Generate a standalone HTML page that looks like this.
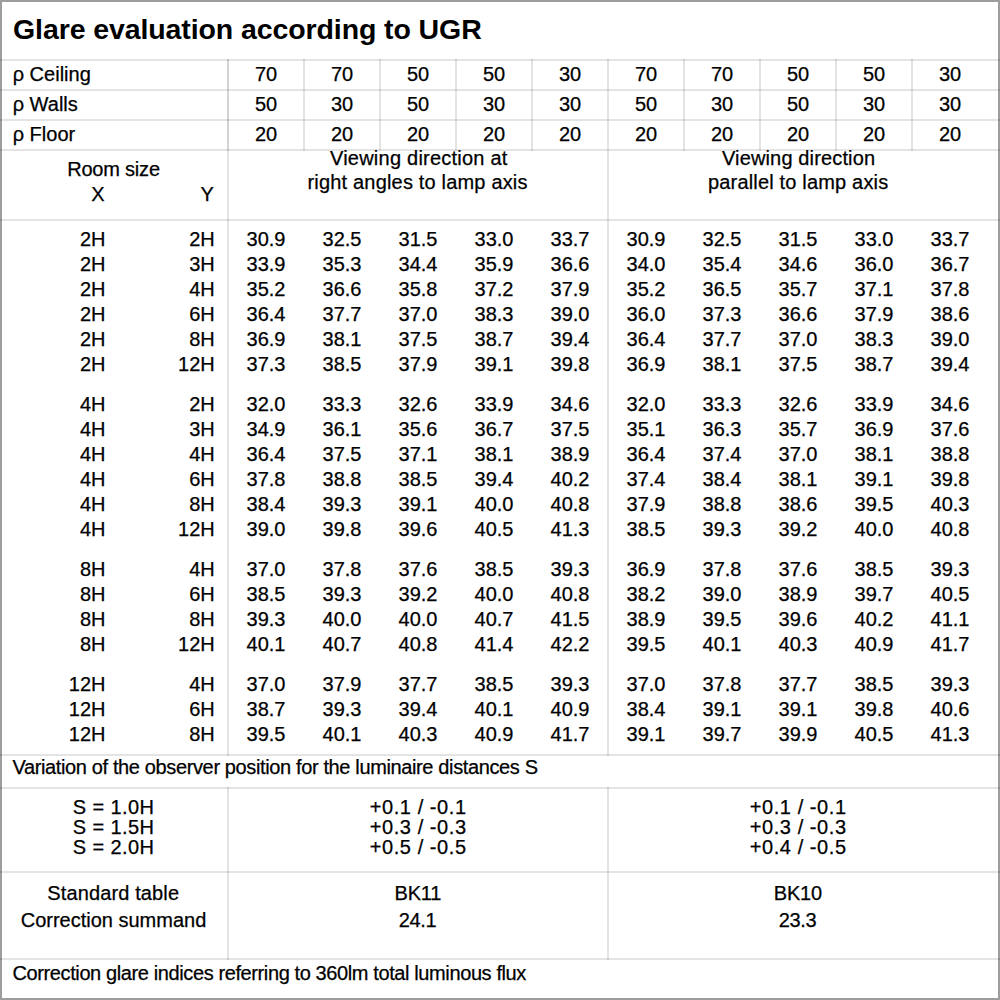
<!DOCTYPE html>
<html><head><meta charset="utf-8"><style>
html,body{margin:0;padding:0;background:#fff;}
#p{position:relative;width:1000px;height:1000px;overflow:hidden;background:#fff;}
.bd{left:0;top:0;width:1000px;height:1000px;box-sizing:border-box;border:2px solid rgba(0,0,0,0.385);}
#p>div{position:absolute;}
.t{font-family:"Liberation Sans",sans-serif;font-size:20px;line-height:20px;color:#000;white-space:nowrap;-webkit-text-stroke:0.25px #000;}
.title{font-family:"Liberation Sans",sans-serif;font-size:28.5px;line-height:28px;font-weight:bold;color:#000;white-space:nowrap;}
.h{height:2px;background:rgba(0,0,0,0.106);}
.v{width:2px;background:rgba(0,0,0,0.106);}
</style></head><body><div id="p">
<div class="h" style="top:59px;left:0px;width:1000px;"></div>
<div class="h" style="top:89px;left:0px;width:1000px;"></div>
<div class="h" style="top:119px;left:0px;width:1000px;"></div>
<div class="h" style="top:149px;left:0px;width:1000px;"></div>
<div class="h" style="top:219px;left:0px;width:1000px;"></div>
<div class="h" style="top:754px;left:0px;width:1000px;"></div>
<div class="h" style="top:787px;left:0px;width:1000px;"></div>
<div class="h" style="top:871px;left:0px;width:1000px;"></div>
<div class="h" style="top:958px;left:0px;width:1000px;"></div>
<div class="v" style="left:227px;top:59px;height:92px;background:rgba(0,0,0,0.17);"></div>
<div class="v" style="left:227px;top:151px;height:605px;"></div>
<div class="v" style="left:227px;top:787px;height:173px;"></div>
<div class="v" style="left:303px;top:59px;height:92px;"></div>
<div class="v" style="left:379px;top:59px;height:92px;"></div>
<div class="v" style="left:455px;top:59px;height:92px;"></div>
<div class="v" style="left:531px;top:59px;height:92px;"></div>
<div class="v" style="left:607px;top:59px;height:92px;"></div>
<div class="v" style="left:683px;top:59px;height:92px;"></div>
<div class="v" style="left:759px;top:59px;height:92px;"></div>
<div class="v" style="left:835px;top:59px;height:92px;"></div>
<div class="v" style="left:911px;top:59px;height:92px;"></div>
<div class="v" style="left:607px;top:151px;height:605px;"></div>
<div class="v" style="left:607px;top:787px;height:173px;"></div>
<div class="title" style="left:13px;top:15px;letter-spacing:-0.1px;">Glare evaluation according to UGR</div>
<div class="t" style="top:64.0px;left:12.7px;">&rho; Ceiling</div>
<div class="t" style="top:64.0px;left:66.0px;width:400px;text-align:center;">70</div>
<div class="t" style="top:64.0px;left:142.0px;width:400px;text-align:center;">70</div>
<div class="t" style="top:64.0px;left:218.0px;width:400px;text-align:center;">50</div>
<div class="t" style="top:64.0px;left:294.0px;width:400px;text-align:center;">50</div>
<div class="t" style="top:64.0px;left:370.0px;width:400px;text-align:center;">30</div>
<div class="t" style="top:64.0px;left:446.0px;width:400px;text-align:center;">70</div>
<div class="t" style="top:64.0px;left:522.0px;width:400px;text-align:center;">70</div>
<div class="t" style="top:64.0px;left:598.0px;width:400px;text-align:center;">50</div>
<div class="t" style="top:64.0px;left:674.0px;width:400px;text-align:center;">50</div>
<div class="t" style="top:64.0px;left:750.0px;width:400px;text-align:center;">30</div>
<div class="t" style="top:94.0px;left:12.7px;">&rho; Walls</div>
<div class="t" style="top:94.0px;left:66.0px;width:400px;text-align:center;">50</div>
<div class="t" style="top:94.0px;left:142.0px;width:400px;text-align:center;">30</div>
<div class="t" style="top:94.0px;left:218.0px;width:400px;text-align:center;">50</div>
<div class="t" style="top:94.0px;left:294.0px;width:400px;text-align:center;">30</div>
<div class="t" style="top:94.0px;left:370.0px;width:400px;text-align:center;">30</div>
<div class="t" style="top:94.0px;left:446.0px;width:400px;text-align:center;">50</div>
<div class="t" style="top:94.0px;left:522.0px;width:400px;text-align:center;">30</div>
<div class="t" style="top:94.0px;left:598.0px;width:400px;text-align:center;">50</div>
<div class="t" style="top:94.0px;left:674.0px;width:400px;text-align:center;">30</div>
<div class="t" style="top:94.0px;left:750.0px;width:400px;text-align:center;">30</div>
<div class="t" style="top:124.0px;left:12.7px;">&rho; Floor</div>
<div class="t" style="top:124.0px;left:66.0px;width:400px;text-align:center;">20</div>
<div class="t" style="top:124.0px;left:142.0px;width:400px;text-align:center;">20</div>
<div class="t" style="top:124.0px;left:218.0px;width:400px;text-align:center;">20</div>
<div class="t" style="top:124.0px;left:294.0px;width:400px;text-align:center;">20</div>
<div class="t" style="top:124.0px;left:370.0px;width:400px;text-align:center;">20</div>
<div class="t" style="top:124.0px;left:446.0px;width:400px;text-align:center;">20</div>
<div class="t" style="top:124.0px;left:522.0px;width:400px;text-align:center;">20</div>
<div class="t" style="top:124.0px;left:598.0px;width:400px;text-align:center;">20</div>
<div class="t" style="top:124.0px;left:674.0px;width:400px;text-align:center;">20</div>
<div class="t" style="top:124.0px;left:750.0px;width:400px;text-align:center;">20</div>
<div class="t" style="top:159.0px;left:-86.5px;width:400px;text-align:center;letter-spacing:-0.2px;">Room size</div>
<div class="t" style="top:184.0px;left:-95.5px;width:200px;text-align:right;">X</div>
<div class="t" style="top:184.0px;left:13.8px;width:200px;text-align:right;">Y</div>
<div class="t" style="top:147.5px;left:218.8px;width:400px;text-align:center;letter-spacing:0.23px;">Viewing direction at</div>
<div class="t" style="top:171.7px;left:217.6px;width:400px;text-align:center;letter-spacing:0.18px;">right angles to lamp axis</div>
<div class="t" style="top:147.5px;left:598.6px;width:400px;text-align:center;letter-spacing:0.14px;">Viewing direction</div>
<div class="t" style="top:171.7px;left:598.2px;width:400px;text-align:center;letter-spacing:0.17px;">parallel to lamp axis</div>
<div class="t" style="top:229.0px;left:-94.5px;width:200px;text-align:right;">2H</div>
<div class="t" style="top:229.0px;left:14.8px;width:200px;text-align:right;">2H</div>
<div class="t" style="top:229.0px;left:66.0px;width:400px;text-align:center;">30.9</div>
<div class="t" style="top:229.0px;left:142.0px;width:400px;text-align:center;">32.5</div>
<div class="t" style="top:229.0px;left:218.0px;width:400px;text-align:center;">31.5</div>
<div class="t" style="top:229.0px;left:294.0px;width:400px;text-align:center;">33.0</div>
<div class="t" style="top:229.0px;left:370.0px;width:400px;text-align:center;">33.7</div>
<div class="t" style="top:229.0px;left:446.0px;width:400px;text-align:center;">30.9</div>
<div class="t" style="top:229.0px;left:522.0px;width:400px;text-align:center;">32.5</div>
<div class="t" style="top:229.0px;left:598.0px;width:400px;text-align:center;">31.5</div>
<div class="t" style="top:229.0px;left:674.0px;width:400px;text-align:center;">33.0</div>
<div class="t" style="top:229.0px;left:750.0px;width:400px;text-align:center;">33.7</div>
<div class="t" style="top:254.0px;left:-94.5px;width:200px;text-align:right;">2H</div>
<div class="t" style="top:254.0px;left:14.8px;width:200px;text-align:right;">3H</div>
<div class="t" style="top:254.0px;left:66.0px;width:400px;text-align:center;">33.9</div>
<div class="t" style="top:254.0px;left:142.0px;width:400px;text-align:center;">35.3</div>
<div class="t" style="top:254.0px;left:218.0px;width:400px;text-align:center;">34.4</div>
<div class="t" style="top:254.0px;left:294.0px;width:400px;text-align:center;">35.9</div>
<div class="t" style="top:254.0px;left:370.0px;width:400px;text-align:center;">36.6</div>
<div class="t" style="top:254.0px;left:446.0px;width:400px;text-align:center;">34.0</div>
<div class="t" style="top:254.0px;left:522.0px;width:400px;text-align:center;">35.4</div>
<div class="t" style="top:254.0px;left:598.0px;width:400px;text-align:center;">34.6</div>
<div class="t" style="top:254.0px;left:674.0px;width:400px;text-align:center;">36.0</div>
<div class="t" style="top:254.0px;left:750.0px;width:400px;text-align:center;">36.7</div>
<div class="t" style="top:279.0px;left:-94.5px;width:200px;text-align:right;">2H</div>
<div class="t" style="top:279.0px;left:14.8px;width:200px;text-align:right;">4H</div>
<div class="t" style="top:279.0px;left:66.0px;width:400px;text-align:center;">35.2</div>
<div class="t" style="top:279.0px;left:142.0px;width:400px;text-align:center;">36.6</div>
<div class="t" style="top:279.0px;left:218.0px;width:400px;text-align:center;">35.8</div>
<div class="t" style="top:279.0px;left:294.0px;width:400px;text-align:center;">37.2</div>
<div class="t" style="top:279.0px;left:370.0px;width:400px;text-align:center;">37.9</div>
<div class="t" style="top:279.0px;left:446.0px;width:400px;text-align:center;">35.2</div>
<div class="t" style="top:279.0px;left:522.0px;width:400px;text-align:center;">36.5</div>
<div class="t" style="top:279.0px;left:598.0px;width:400px;text-align:center;">35.7</div>
<div class="t" style="top:279.0px;left:674.0px;width:400px;text-align:center;">37.1</div>
<div class="t" style="top:279.0px;left:750.0px;width:400px;text-align:center;">37.8</div>
<div class="t" style="top:304.0px;left:-94.5px;width:200px;text-align:right;">2H</div>
<div class="t" style="top:304.0px;left:14.8px;width:200px;text-align:right;">6H</div>
<div class="t" style="top:304.0px;left:66.0px;width:400px;text-align:center;">36.4</div>
<div class="t" style="top:304.0px;left:142.0px;width:400px;text-align:center;">37.7</div>
<div class="t" style="top:304.0px;left:218.0px;width:400px;text-align:center;">37.0</div>
<div class="t" style="top:304.0px;left:294.0px;width:400px;text-align:center;">38.3</div>
<div class="t" style="top:304.0px;left:370.0px;width:400px;text-align:center;">39.0</div>
<div class="t" style="top:304.0px;left:446.0px;width:400px;text-align:center;">36.0</div>
<div class="t" style="top:304.0px;left:522.0px;width:400px;text-align:center;">37.3</div>
<div class="t" style="top:304.0px;left:598.0px;width:400px;text-align:center;">36.6</div>
<div class="t" style="top:304.0px;left:674.0px;width:400px;text-align:center;">37.9</div>
<div class="t" style="top:304.0px;left:750.0px;width:400px;text-align:center;">38.6</div>
<div class="t" style="top:329.0px;left:-94.5px;width:200px;text-align:right;">2H</div>
<div class="t" style="top:329.0px;left:14.8px;width:200px;text-align:right;">8H</div>
<div class="t" style="top:329.0px;left:66.0px;width:400px;text-align:center;">36.9</div>
<div class="t" style="top:329.0px;left:142.0px;width:400px;text-align:center;">38.1</div>
<div class="t" style="top:329.0px;left:218.0px;width:400px;text-align:center;">37.5</div>
<div class="t" style="top:329.0px;left:294.0px;width:400px;text-align:center;">38.7</div>
<div class="t" style="top:329.0px;left:370.0px;width:400px;text-align:center;">39.4</div>
<div class="t" style="top:329.0px;left:446.0px;width:400px;text-align:center;">36.4</div>
<div class="t" style="top:329.0px;left:522.0px;width:400px;text-align:center;">37.7</div>
<div class="t" style="top:329.0px;left:598.0px;width:400px;text-align:center;">37.0</div>
<div class="t" style="top:329.0px;left:674.0px;width:400px;text-align:center;">38.3</div>
<div class="t" style="top:329.0px;left:750.0px;width:400px;text-align:center;">39.0</div>
<div class="t" style="top:354.0px;left:-94.5px;width:200px;text-align:right;">2H</div>
<div class="t" style="top:354.0px;left:14.8px;width:200px;text-align:right;">12H</div>
<div class="t" style="top:354.0px;left:66.0px;width:400px;text-align:center;">37.3</div>
<div class="t" style="top:354.0px;left:142.0px;width:400px;text-align:center;">38.5</div>
<div class="t" style="top:354.0px;left:218.0px;width:400px;text-align:center;">37.9</div>
<div class="t" style="top:354.0px;left:294.0px;width:400px;text-align:center;">39.1</div>
<div class="t" style="top:354.0px;left:370.0px;width:400px;text-align:center;">39.8</div>
<div class="t" style="top:354.0px;left:446.0px;width:400px;text-align:center;">36.9</div>
<div class="t" style="top:354.0px;left:522.0px;width:400px;text-align:center;">38.1</div>
<div class="t" style="top:354.0px;left:598.0px;width:400px;text-align:center;">37.5</div>
<div class="t" style="top:354.0px;left:674.0px;width:400px;text-align:center;">38.7</div>
<div class="t" style="top:354.0px;left:750.0px;width:400px;text-align:center;">39.4</div>
<div class="t" style="top:394.0px;left:-94.5px;width:200px;text-align:right;">4H</div>
<div class="t" style="top:394.0px;left:14.8px;width:200px;text-align:right;">2H</div>
<div class="t" style="top:394.0px;left:66.0px;width:400px;text-align:center;">32.0</div>
<div class="t" style="top:394.0px;left:142.0px;width:400px;text-align:center;">33.3</div>
<div class="t" style="top:394.0px;left:218.0px;width:400px;text-align:center;">32.6</div>
<div class="t" style="top:394.0px;left:294.0px;width:400px;text-align:center;">33.9</div>
<div class="t" style="top:394.0px;left:370.0px;width:400px;text-align:center;">34.6</div>
<div class="t" style="top:394.0px;left:446.0px;width:400px;text-align:center;">32.0</div>
<div class="t" style="top:394.0px;left:522.0px;width:400px;text-align:center;">33.3</div>
<div class="t" style="top:394.0px;left:598.0px;width:400px;text-align:center;">32.6</div>
<div class="t" style="top:394.0px;left:674.0px;width:400px;text-align:center;">33.9</div>
<div class="t" style="top:394.0px;left:750.0px;width:400px;text-align:center;">34.6</div>
<div class="t" style="top:419.0px;left:-94.5px;width:200px;text-align:right;">4H</div>
<div class="t" style="top:419.0px;left:14.8px;width:200px;text-align:right;">3H</div>
<div class="t" style="top:419.0px;left:66.0px;width:400px;text-align:center;">34.9</div>
<div class="t" style="top:419.0px;left:142.0px;width:400px;text-align:center;">36.1</div>
<div class="t" style="top:419.0px;left:218.0px;width:400px;text-align:center;">35.6</div>
<div class="t" style="top:419.0px;left:294.0px;width:400px;text-align:center;">36.7</div>
<div class="t" style="top:419.0px;left:370.0px;width:400px;text-align:center;">37.5</div>
<div class="t" style="top:419.0px;left:446.0px;width:400px;text-align:center;">35.1</div>
<div class="t" style="top:419.0px;left:522.0px;width:400px;text-align:center;">36.3</div>
<div class="t" style="top:419.0px;left:598.0px;width:400px;text-align:center;">35.7</div>
<div class="t" style="top:419.0px;left:674.0px;width:400px;text-align:center;">36.9</div>
<div class="t" style="top:419.0px;left:750.0px;width:400px;text-align:center;">37.6</div>
<div class="t" style="top:444.0px;left:-94.5px;width:200px;text-align:right;">4H</div>
<div class="t" style="top:444.0px;left:14.8px;width:200px;text-align:right;">4H</div>
<div class="t" style="top:444.0px;left:66.0px;width:400px;text-align:center;">36.4</div>
<div class="t" style="top:444.0px;left:142.0px;width:400px;text-align:center;">37.5</div>
<div class="t" style="top:444.0px;left:218.0px;width:400px;text-align:center;">37.1</div>
<div class="t" style="top:444.0px;left:294.0px;width:400px;text-align:center;">38.1</div>
<div class="t" style="top:444.0px;left:370.0px;width:400px;text-align:center;">38.9</div>
<div class="t" style="top:444.0px;left:446.0px;width:400px;text-align:center;">36.4</div>
<div class="t" style="top:444.0px;left:522.0px;width:400px;text-align:center;">37.4</div>
<div class="t" style="top:444.0px;left:598.0px;width:400px;text-align:center;">37.0</div>
<div class="t" style="top:444.0px;left:674.0px;width:400px;text-align:center;">38.1</div>
<div class="t" style="top:444.0px;left:750.0px;width:400px;text-align:center;">38.8</div>
<div class="t" style="top:469.0px;left:-94.5px;width:200px;text-align:right;">4H</div>
<div class="t" style="top:469.0px;left:14.8px;width:200px;text-align:right;">6H</div>
<div class="t" style="top:469.0px;left:66.0px;width:400px;text-align:center;">37.8</div>
<div class="t" style="top:469.0px;left:142.0px;width:400px;text-align:center;">38.8</div>
<div class="t" style="top:469.0px;left:218.0px;width:400px;text-align:center;">38.5</div>
<div class="t" style="top:469.0px;left:294.0px;width:400px;text-align:center;">39.4</div>
<div class="t" style="top:469.0px;left:370.0px;width:400px;text-align:center;">40.2</div>
<div class="t" style="top:469.0px;left:446.0px;width:400px;text-align:center;">37.4</div>
<div class="t" style="top:469.0px;left:522.0px;width:400px;text-align:center;">38.4</div>
<div class="t" style="top:469.0px;left:598.0px;width:400px;text-align:center;">38.1</div>
<div class="t" style="top:469.0px;left:674.0px;width:400px;text-align:center;">39.1</div>
<div class="t" style="top:469.0px;left:750.0px;width:400px;text-align:center;">39.8</div>
<div class="t" style="top:494.0px;left:-94.5px;width:200px;text-align:right;">4H</div>
<div class="t" style="top:494.0px;left:14.8px;width:200px;text-align:right;">8H</div>
<div class="t" style="top:494.0px;left:66.0px;width:400px;text-align:center;">38.4</div>
<div class="t" style="top:494.0px;left:142.0px;width:400px;text-align:center;">39.3</div>
<div class="t" style="top:494.0px;left:218.0px;width:400px;text-align:center;">39.1</div>
<div class="t" style="top:494.0px;left:294.0px;width:400px;text-align:center;">40.0</div>
<div class="t" style="top:494.0px;left:370.0px;width:400px;text-align:center;">40.8</div>
<div class="t" style="top:494.0px;left:446.0px;width:400px;text-align:center;">37.9</div>
<div class="t" style="top:494.0px;left:522.0px;width:400px;text-align:center;">38.8</div>
<div class="t" style="top:494.0px;left:598.0px;width:400px;text-align:center;">38.6</div>
<div class="t" style="top:494.0px;left:674.0px;width:400px;text-align:center;">39.5</div>
<div class="t" style="top:494.0px;left:750.0px;width:400px;text-align:center;">40.3</div>
<div class="t" style="top:519.0px;left:-94.5px;width:200px;text-align:right;">4H</div>
<div class="t" style="top:519.0px;left:14.8px;width:200px;text-align:right;">12H</div>
<div class="t" style="top:519.0px;left:66.0px;width:400px;text-align:center;">39.0</div>
<div class="t" style="top:519.0px;left:142.0px;width:400px;text-align:center;">39.8</div>
<div class="t" style="top:519.0px;left:218.0px;width:400px;text-align:center;">39.6</div>
<div class="t" style="top:519.0px;left:294.0px;width:400px;text-align:center;">40.5</div>
<div class="t" style="top:519.0px;left:370.0px;width:400px;text-align:center;">41.3</div>
<div class="t" style="top:519.0px;left:446.0px;width:400px;text-align:center;">38.5</div>
<div class="t" style="top:519.0px;left:522.0px;width:400px;text-align:center;">39.3</div>
<div class="t" style="top:519.0px;left:598.0px;width:400px;text-align:center;">39.2</div>
<div class="t" style="top:519.0px;left:674.0px;width:400px;text-align:center;">40.0</div>
<div class="t" style="top:519.0px;left:750.0px;width:400px;text-align:center;">40.8</div>
<div class="t" style="top:559.0px;left:-94.5px;width:200px;text-align:right;">8H</div>
<div class="t" style="top:559.0px;left:14.8px;width:200px;text-align:right;">4H</div>
<div class="t" style="top:559.0px;left:66.0px;width:400px;text-align:center;">37.0</div>
<div class="t" style="top:559.0px;left:142.0px;width:400px;text-align:center;">37.8</div>
<div class="t" style="top:559.0px;left:218.0px;width:400px;text-align:center;">37.6</div>
<div class="t" style="top:559.0px;left:294.0px;width:400px;text-align:center;">38.5</div>
<div class="t" style="top:559.0px;left:370.0px;width:400px;text-align:center;">39.3</div>
<div class="t" style="top:559.0px;left:446.0px;width:400px;text-align:center;">36.9</div>
<div class="t" style="top:559.0px;left:522.0px;width:400px;text-align:center;">37.8</div>
<div class="t" style="top:559.0px;left:598.0px;width:400px;text-align:center;">37.6</div>
<div class="t" style="top:559.0px;left:674.0px;width:400px;text-align:center;">38.5</div>
<div class="t" style="top:559.0px;left:750.0px;width:400px;text-align:center;">39.3</div>
<div class="t" style="top:584.0px;left:-94.5px;width:200px;text-align:right;">8H</div>
<div class="t" style="top:584.0px;left:14.8px;width:200px;text-align:right;">6H</div>
<div class="t" style="top:584.0px;left:66.0px;width:400px;text-align:center;">38.5</div>
<div class="t" style="top:584.0px;left:142.0px;width:400px;text-align:center;">39.3</div>
<div class="t" style="top:584.0px;left:218.0px;width:400px;text-align:center;">39.2</div>
<div class="t" style="top:584.0px;left:294.0px;width:400px;text-align:center;">40.0</div>
<div class="t" style="top:584.0px;left:370.0px;width:400px;text-align:center;">40.8</div>
<div class="t" style="top:584.0px;left:446.0px;width:400px;text-align:center;">38.2</div>
<div class="t" style="top:584.0px;left:522.0px;width:400px;text-align:center;">39.0</div>
<div class="t" style="top:584.0px;left:598.0px;width:400px;text-align:center;">38.9</div>
<div class="t" style="top:584.0px;left:674.0px;width:400px;text-align:center;">39.7</div>
<div class="t" style="top:584.0px;left:750.0px;width:400px;text-align:center;">40.5</div>
<div class="t" style="top:609.0px;left:-94.5px;width:200px;text-align:right;">8H</div>
<div class="t" style="top:609.0px;left:14.8px;width:200px;text-align:right;">8H</div>
<div class="t" style="top:609.0px;left:66.0px;width:400px;text-align:center;">39.3</div>
<div class="t" style="top:609.0px;left:142.0px;width:400px;text-align:center;">40.0</div>
<div class="t" style="top:609.0px;left:218.0px;width:400px;text-align:center;">40.0</div>
<div class="t" style="top:609.0px;left:294.0px;width:400px;text-align:center;">40.7</div>
<div class="t" style="top:609.0px;left:370.0px;width:400px;text-align:center;">41.5</div>
<div class="t" style="top:609.0px;left:446.0px;width:400px;text-align:center;">38.9</div>
<div class="t" style="top:609.0px;left:522.0px;width:400px;text-align:center;">39.5</div>
<div class="t" style="top:609.0px;left:598.0px;width:400px;text-align:center;">39.6</div>
<div class="t" style="top:609.0px;left:674.0px;width:400px;text-align:center;">40.2</div>
<div class="t" style="top:609.0px;left:750.0px;width:400px;text-align:center;">41.1</div>
<div class="t" style="top:634.0px;left:-94.5px;width:200px;text-align:right;">8H</div>
<div class="t" style="top:634.0px;left:14.8px;width:200px;text-align:right;">12H</div>
<div class="t" style="top:634.0px;left:66.0px;width:400px;text-align:center;">40.1</div>
<div class="t" style="top:634.0px;left:142.0px;width:400px;text-align:center;">40.7</div>
<div class="t" style="top:634.0px;left:218.0px;width:400px;text-align:center;">40.8</div>
<div class="t" style="top:634.0px;left:294.0px;width:400px;text-align:center;">41.4</div>
<div class="t" style="top:634.0px;left:370.0px;width:400px;text-align:center;">42.2</div>
<div class="t" style="top:634.0px;left:446.0px;width:400px;text-align:center;">39.5</div>
<div class="t" style="top:634.0px;left:522.0px;width:400px;text-align:center;">40.1</div>
<div class="t" style="top:634.0px;left:598.0px;width:400px;text-align:center;">40.3</div>
<div class="t" style="top:634.0px;left:674.0px;width:400px;text-align:center;">40.9</div>
<div class="t" style="top:634.0px;left:750.0px;width:400px;text-align:center;">41.7</div>
<div class="t" style="top:674.0px;left:-94.5px;width:200px;text-align:right;">12H</div>
<div class="t" style="top:674.0px;left:14.8px;width:200px;text-align:right;">4H</div>
<div class="t" style="top:674.0px;left:66.0px;width:400px;text-align:center;">37.0</div>
<div class="t" style="top:674.0px;left:142.0px;width:400px;text-align:center;">37.9</div>
<div class="t" style="top:674.0px;left:218.0px;width:400px;text-align:center;">37.7</div>
<div class="t" style="top:674.0px;left:294.0px;width:400px;text-align:center;">38.5</div>
<div class="t" style="top:674.0px;left:370.0px;width:400px;text-align:center;">39.3</div>
<div class="t" style="top:674.0px;left:446.0px;width:400px;text-align:center;">37.0</div>
<div class="t" style="top:674.0px;left:522.0px;width:400px;text-align:center;">37.8</div>
<div class="t" style="top:674.0px;left:598.0px;width:400px;text-align:center;">37.7</div>
<div class="t" style="top:674.0px;left:674.0px;width:400px;text-align:center;">38.5</div>
<div class="t" style="top:674.0px;left:750.0px;width:400px;text-align:center;">39.3</div>
<div class="t" style="top:699.0px;left:-94.5px;width:200px;text-align:right;">12H</div>
<div class="t" style="top:699.0px;left:14.8px;width:200px;text-align:right;">6H</div>
<div class="t" style="top:699.0px;left:66.0px;width:400px;text-align:center;">38.7</div>
<div class="t" style="top:699.0px;left:142.0px;width:400px;text-align:center;">39.3</div>
<div class="t" style="top:699.0px;left:218.0px;width:400px;text-align:center;">39.4</div>
<div class="t" style="top:699.0px;left:294.0px;width:400px;text-align:center;">40.1</div>
<div class="t" style="top:699.0px;left:370.0px;width:400px;text-align:center;">40.9</div>
<div class="t" style="top:699.0px;left:446.0px;width:400px;text-align:center;">38.4</div>
<div class="t" style="top:699.0px;left:522.0px;width:400px;text-align:center;">39.1</div>
<div class="t" style="top:699.0px;left:598.0px;width:400px;text-align:center;">39.1</div>
<div class="t" style="top:699.0px;left:674.0px;width:400px;text-align:center;">39.8</div>
<div class="t" style="top:699.0px;left:750.0px;width:400px;text-align:center;">40.6</div>
<div class="t" style="top:724.0px;left:-94.5px;width:200px;text-align:right;">12H</div>
<div class="t" style="top:724.0px;left:14.8px;width:200px;text-align:right;">8H</div>
<div class="t" style="top:724.0px;left:66.0px;width:400px;text-align:center;">39.5</div>
<div class="t" style="top:724.0px;left:142.0px;width:400px;text-align:center;">40.1</div>
<div class="t" style="top:724.0px;left:218.0px;width:400px;text-align:center;">40.3</div>
<div class="t" style="top:724.0px;left:294.0px;width:400px;text-align:center;">40.9</div>
<div class="t" style="top:724.0px;left:370.0px;width:400px;text-align:center;">41.7</div>
<div class="t" style="top:724.0px;left:446.0px;width:400px;text-align:center;">39.1</div>
<div class="t" style="top:724.0px;left:522.0px;width:400px;text-align:center;">39.7</div>
<div class="t" style="top:724.0px;left:598.0px;width:400px;text-align:center;">39.9</div>
<div class="t" style="top:724.0px;left:674.0px;width:400px;text-align:center;">40.5</div>
<div class="t" style="top:724.0px;left:750.0px;width:400px;text-align:center;">41.3</div>
<div class="t" style="top:756.5px;left:12.5px;letter-spacing:-0.37px;">Variation of the observer position for the luminaire distances S</div>
<div class="t" style="top:796.7px;left:-86.5px;width:400px;text-align:center;letter-spacing:0.4px;">S = 1.0H</div>
<div class="t" style="top:796.7px;left:218.2px;width:400px;text-align:center;letter-spacing:0.56px;">+0.1 / -0.1</div>
<div class="t" style="top:796.7px;left:598.2px;width:400px;text-align:center;letter-spacing:0.56px;">+0.1 / -0.1</div>
<div class="t" style="top:816.7px;left:-86.5px;width:400px;text-align:center;letter-spacing:0.4px;">S = 1.5H</div>
<div class="t" style="top:816.7px;left:218.2px;width:400px;text-align:center;letter-spacing:0.56px;">+0.3 / -0.3</div>
<div class="t" style="top:816.7px;left:598.2px;width:400px;text-align:center;letter-spacing:0.56px;">+0.3 / -0.3</div>
<div class="t" style="top:836.7px;left:-86.5px;width:400px;text-align:center;letter-spacing:0.4px;">S = 2.0H</div>
<div class="t" style="top:836.7px;left:218.2px;width:400px;text-align:center;letter-spacing:0.56px;">+0.5 / -0.5</div>
<div class="t" style="top:836.7px;left:598.2px;width:400px;text-align:center;letter-spacing:0.56px;">+0.4 / -0.5</div>
<div class="t" style="top:882.5px;left:-86.8px;width:400px;text-align:center;letter-spacing:0.13px;">Standard table</div>
<div class="t" style="top:909.5px;left:-86.5px;width:400px;text-align:center;">Correction summand</div>
<div class="t" style="top:882.5px;left:217.8px;width:400px;text-align:center;letter-spacing:-0.25px;">BK11</div>
<div class="t" style="top:909.5px;left:217.6px;width:400px;text-align:center;letter-spacing:-0.3px;">24.1</div>
<div class="t" style="top:882.5px;left:597.8px;width:400px;text-align:center;letter-spacing:-0.25px;">BK10</div>
<div class="t" style="top:909.5px;left:597.6px;width:400px;text-align:center;letter-spacing:-0.3px;">23.3</div>
<div class="t" style="top:962.5px;left:12.5px;letter-spacing:-0.39px;">Correction glare indices referring to 360lm total luminous flux</div>
<div class="bd"></div>
</div></body></html>
